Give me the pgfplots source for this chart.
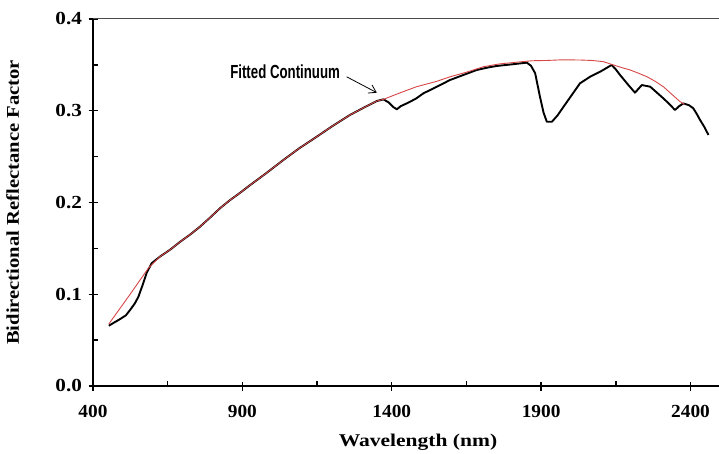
\documentclass[border=0pt]{standalone}
\usepackage{pgfplots}
\pgfplotsset{compat=1.18}
\usepackage{fontspec}
\setmainfont{Liberation Serif}
\newfontfamily\annfont{Liberation Sans}
\usetikzlibrary{arrows.meta}
\begin{document}
\begin{tikzpicture}[x=1bp,y=1bp]
\useasboundingbox (0,0) rectangle (719,454);
\begin{axis}[
  at={(93bp,68bp)}, anchor=south west,
  scale only axis, width=628bp, height=367bp,
  xmin=400, xmax=2502, ymin=0, ymax=0.4,
  axis x line*=bottom, axis y line*=left,
  axis line style={black, line width=1.6bp, -},
  xtick={400,900,1400,1900,2400},
  ytick={0,0.1,0.2,0.3,0.4},
  minor x tick num=1, minor y tick num=1,
  tick align=inside,
  major tick length=9bp, minor tick length=4.5bp,
  every major x tick/.append style={yshift=-5bp},
  every major y tick/.append style={xshift=-4.5bp},
  tick style={black, line width=1.4bp},
  /pgf/number format/assume math mode=true,
  yticklabel style={xscale=1.15, /pgf/number format/.cd, fixed, fixed zerofill, precision=1},
  xticklabel style={xscale=1.05, /pgf/number format/.cd, 1000 sep={}},
  ticklabel style={font=\fontsize{18.5}{20}\selectfont\bfseries},
  xticklabel shift=16bp, yticklabel shift=7bp,
  xlabel={Wavelength (nm)},
  ylabel={Bidirectional Reflectance Factor},
  label style={font=\fontsize{18}{20}\selectfont\bfseries},
  xlabel style={at={(axis description cs:0.5175,0)}, anchor=north, yshift=-45bp, xscale=1.2},
  ylabel style={at={(axis description cs:-0.112,0.5)}, anchor=south, xscale=1.15},
  clip=false,
]
\addplot[black, line width=1.9bp, line join=round] coordinates {
(453,0.0657)(470,0.069)(490,0.0728)(510,0.077)(524,0.0828)(540,0.090)(552,0.0973)(566,0.110)(579,0.1228)(596,0.1337)(624,0.141)(660,0.149)(691,0.157)(725,0.165)(758,0.1736)(790,0.183)(825,0.1937)(859,0.2027)(890,0.210)(926,0.219)(980,0.232)(1037,0.2463)(1090,0.259)(1149,0.2717)(1200,0.283)(1260,0.2954)(1310,0.304)(1350,0.3106)(1372,0.3124)(1390,0.309)(1405,0.304)(1417,0.3016)(1430,0.305)(1450,0.308)(1480,0.313)(1506,0.319)(1550,0.326)(1595,0.3335)(1640,0.339)(1684,0.3444)(1720,0.347)(1751,0.3488)(1800,0.3505)(1852,0.3524)(1866,0.349)(1880,0.3408)(1896,0.3153)(1908,0.298)(1919,0.288)(1936,0.288)(1955,0.295)(1975,0.3044)(2000,0.316)(2030,0.3299)(2064,0.3371)(2100,0.343)(2136,0.3499)(2150,0.345)(2164,0.339)(2192,0.328)(2214,0.3197)(2237,0.328)(2265,0.3262)(2290,0.319)(2309,0.3135)(2330,0.307)(2348,0.3008)(2362,0.305)(2376,0.308)(2395,0.306)(2409,0.3027)(2420,0.297)(2432,0.2899)(2445,0.283)(2460,0.2736)
};
\addplot[color={rgb,255:red,215;green,70;blue,70}, line width=0.9bp] coordinates {
(453,0.0676)(520,0.098)(585,0.1283)(624,0.141)(660,0.149)(691,0.157)(725,0.165)(758,0.1736)(790,0.183)(825,0.1937)(859,0.2027)(890,0.210)(926,0.219)(980,0.232)(1037,0.2463)(1090,0.259)(1149,0.2717)(1200,0.283)(1260,0.2954)(1310,0.304)(1350,0.3106)(1372,0.3124)(1400,0.316)(1440,0.321)(1483,0.3262)(1550,0.332)(1595,0.337)(1650,0.342)(1707,0.348)(1760,0.351)(1820,0.353)(1870,0.3545)(1919,0.3548)(1970,0.3555)(2030,0.3553)(2070,0.3548)(2108,0.3535)(2142,0.3499)(2170,0.347)(2198,0.3444)(2225,0.341)(2254,0.3371)(2282,0.332)(2309,0.3262)(2337,0.318)(2365,0.3099)(2380,0.307)
};
\draw[black!70, line width=1bp] (rel axis cs:0,1) -- (rel axis cs:1,1);
\node[font=\annfont\bfseries\fontsize{19}{21}\selectfont, xscale=0.7, inner sep=0pt] at (axis cs:1043,0.3422) {Fitted Continuum};
\draw[-{Straight Barb[length=7bp,width=9bp]}, line width=0.8bp] (axis cs:1249,0.337) -- (axis cs:1350,0.3197);
\end{axis}
\end{tikzpicture}
\end{document}
